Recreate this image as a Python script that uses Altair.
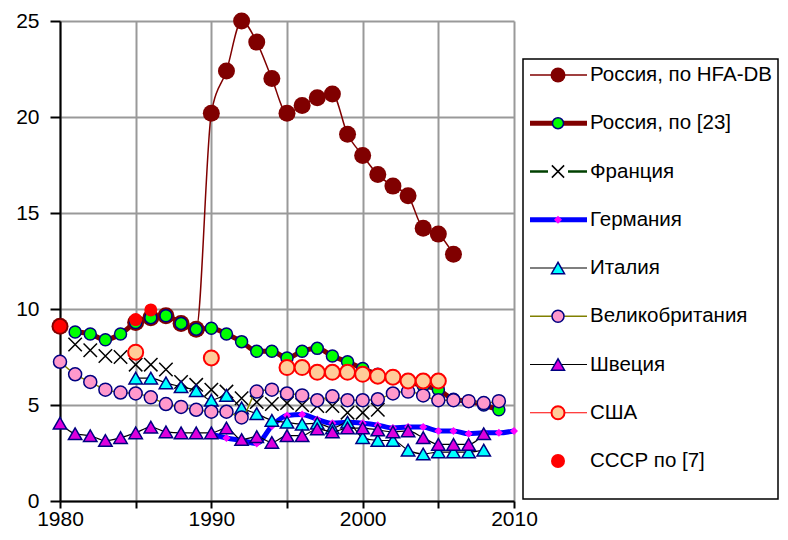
import altair as alt
import pandas as pd

years = list(range(1980, 2011))
N = None

russia_hfa = [9.1, N, N, N, N, 9.3, 9.55, 9.65, 9.25, 8.95,
              20.2, 22.4, 25.0, 23.9, 22.0, 20.2, 20.6, 21.0, 21.2, 19.1,
              18.0, 17.0, 16.4, 15.9, 14.2, 13.9, 12.85, N, N, N, N]
russia_23 = [N, 8.8, 8.7, 8.4, 8.7, 9.3, 9.55, 9.65, 9.25, 8.95,
             9.0, 8.7, 8.3, 7.8, 7.8, 7.45, 7.8, 7.95, 7.55, 7.25,
             6.9, 6.6, 6.4, 6.2, 6.0, 5.8, 5.3, 5.2, 5.0, 4.75, N]
france = [N, 8.15, 7.85, 7.55, 7.5, 7.1, 7.1, 6.85, 6.2, 6.05,
          5.8, 5.7, 5.35, 5.15, 5.05, 5.1, 5.0, 4.95, 4.95, 4.6,
          4.6, 4.75, N, N, N, N, N, N, N, N, N]
germany = [N, N, N, N, N, N, N, N, N, N,
           3.5, 3.28, 3.15, 3.0, 3.9, 4.45, 4.5, 4.25, 4.05, 4.1,
           4.05, 3.95, 3.8, 3.85, 3.85, 3.65, 3.65, 3.5, 3.55, 3.55, 3.65]
italy = [N, N, N, N, N, 6.4, 6.4, 6.15, 5.95, 5.75,
         5.25, 5.5, 4.85, 4.55, 4.2, 4.1, 4.0, 4.05, 3.8, 4.1,
         3.3, 3.15, 3.15, 2.65, 2.45, 2.55, 2.55, 2.55, 2.65, N, N]
uk = [7.25, 6.6, 6.2, 5.8, 5.65, 5.6, 5.4, 5.05, 4.9, 4.75,
      4.65, 4.65, 4.35, 5.7, 5.8, 5.6, 5.5, 5.25, 5.45, 5.25,
      5.25, 5.3, 5.6, 5.7, 5.5, 5.25, 5.25, 5.2, 5.1, 5.2, N]
sweden = [4.05, 3.5, 3.4, 3.15, 3.3, 3.55, 3.85, 3.6, 3.55, 3.55,
          3.55, 3.8, 3.2, 3.35, 3.05, 3.4, 3.4, 3.75, 3.6, 3.8,
          3.8, 3.7, 3.6, 3.65, 3.3, 2.95, 2.95, 2.95, 3.5, N, N]
usa = [N, N, N, N, N, 7.75, N, N, N, N,
       7.45, N, N, N, N, 6.95, 6.95, 6.7, 6.7, 6.7,
       6.6, 6.5, 6.45, 6.25, 6.25, 6.25, N, N, N, N, N]
ussr = [9.1, N, N, N, N, 9.45, 9.95, N, N, N,
        N, N, N, N, N, N, N, N, N, N,
        N, N, N, N, N, N, N, N, N, N, N]

names = ["Россия, по HFA-DB", "Россия, по [23]", "Франция", "Германия", "Италия",
         "Великобритания", "Швеция", "США", "СССР по [7]"]
values = [russia_hfa, russia_23, france, germany, italy, uk, sweden, usa, ussr]

XSHAPE = "M-1,-1L1,1M-1,1L1,-1"
styles = [
    dict(line="#800000", lw=1.5, shape="circle", fill="#800000", stroke="#800000", sw=0, size=289, lsize=225),
    dict(line="#800000", lw=5, shape="circle", fill="#00FF00", stroke="#000080", sw=1.5, size=144, lsize=121),
    dict(line=None, lline="#004000", lw=2.5, shape=XSHAPE, fill=None, stroke="black", sw=1.5, size=180, lsize=150),
    dict(line="#0000FF", lw=5, shape="diamond", fill="#FF00FF", stroke="#FF00FF", sw=0, size=64, lsize=64),
    dict(line="black", lw=1.2, shape="triangle-up", fill="#00FFFF", stroke="#000080", sw=1.5, size=180, lsize=170),
    dict(line="#808000", lw=1.5, shape="circle", fill="#FF99CC", stroke="#000080", sw=1.5, size=169, lsize=144),
    dict(line="black", lw=1.2, shape="triangle-up", fill="#DD00DD", stroke="#000080", sw=1.5, size=180, lsize=170),
    dict(line="#FF0000", lw=1.2, shape="circle", fill="#FFCC99", stroke="#FF0000", sw=2, size=225, lsize=169),
    dict(line=None, lline=None, lw=0, shape="circle", fill="#FF0000", stroke="#FF0000", sw=0, size=169, lsize=196),
]

FONT = "Liberation Sans"
FS = 21
LFS = 20.5

xscale = alt.Scale(domain=[1980, 2010], nice=False, zero=False)
yscale = alt.Scale(domain=[0, 25], nice=False)
xaxis = alt.Axis(values=list(range(1980, 2011, 5)), format="d",
                 labelExpr="datum.value % 10 == 0 ? datum.label : ''",
                 title=None, grid=True, gridColor="#999999", gridWidth=2,
                 domainColor="black", domainWidth=2, tickColor="black", tickWidth=2,
                 tickSize=7, labelFont=FONT, labelFontSize=FS, labelColor="black",
                 labelPadding=0, labelFlush=False, labelOverlap=False)
yaxis = alt.Axis(values=list(range(0, 26, 5)), title=None, grid=True,
                 gridColor="#999999", gridWidth=2, domainColor="black", domainWidth=2,
                 tickColor="black", tickWidth=2, tickSize=10, labelFont=FONT,
                 labelFontSize=FS, labelColor="black", labelPadding=11)

main_layers = []
for name, vals, st in zip(names, values, styles):
    df = pd.DataFrame({"year": years, "value": vals})
    base = alt.Chart(df).encode(
        x=alt.X("year:Q", scale=xscale, axis=xaxis),
        y=alt.Y("value:Q", scale=yscale, axis=yaxis),
    )
    if st["line"]:
        main_layers.append(base.mark_line(color=st["line"], strokeWidth=st["lw"],
                                          interpolate="monotone",
                                          invalid="break-paths-filter-domains"))
    if st["fill"]:
        main_layers.append(base.mark_point(shape=st["shape"], filled=True, fill=st["fill"],
                                           stroke=st["stroke"], strokeWidth=st["sw"],
                                           size=st["size"], opacity=1))
    else:
        main_layers.append(base.mark_point(shape=st["shape"], filled=False, color=st["stroke"],
                                           strokeWidth=st["sw"], size=st["size"], opacity=1))

main = alt.layer(*main_layers)

# legend
lscale = alt.Scale(domain=[0, 8], range=[54, 440])
legend_df = pd.DataFrame({"i": list(range(len(names))), "label": names})
box = alt.Chart(pd.DataFrame({"a": [0]})).mark_rect(
    fill="white", stroke="black", strokeWidth=1.5
).encode(x=alt.value(463), x2=alt.value(718), y=alt.value(38), y2=alt.value(478))
legend_layers = [box]
for i, st in enumerate(styles):
    row = legend_df[legend_df["i"] == i]
    ly = alt.Y("i:Q", scale=lscale, axis=None)
    if st["line"]:
        legend_layers.append(alt.Chart(row).mark_rule(color=st["line"], strokeWidth=st["lw"]).encode(
            x=alt.value(470), x2=alt.value(527), y=ly))
    elif st.get("lline"):
        legend_layers.append(alt.Chart(row).mark_rule(color=st["lline"], strokeWidth=st["lw"]).encode(
            x=alt.value(470), x2=alt.value(488), y=ly))
        legend_layers.append(alt.Chart(row).mark_rule(color=st["lline"], strokeWidth=st["lw"]).encode(
            x=alt.value(508), x2=alt.value(527), y=ly))
    if st["fill"]:
        legend_layers.append(alt.Chart(row).mark_point(shape=st["shape"], filled=True, fill=st["fill"],
                                                       stroke=st["stroke"], strokeWidth=st["sw"],
                                                       size=st["lsize"], opacity=1).encode(
            x=alt.value(498), y=ly))
    else:
        legend_layers.append(alt.Chart(row).mark_point(shape=st["shape"], filled=False, color=st["stroke"],
                                                       strokeWidth=st["sw"], size=st["lsize"], opacity=1).encode(
            x=alt.value(498), y=ly))
legend_layers.append(alt.Chart(legend_df).mark_text(
    align="left", baseline="middle", font=FONT, fontSize=LFS, color="black"
).encode(x=alt.value(530), y=alt.Y("i:Q", scale=lscale, axis=None), text="label:N"))
legend = alt.layer(*legend_layers)

chart = alt.layer(main, legend).resolve_scale(y="independent").properties(
    width=454, height=480,
    autosize=alt.AutoSizeParams(type="none"),
    padding={"left": 52, "top": 13, "right": 266, "bottom": 31},
).configure_view(strokeWidth=0)

chart.save("out.html", embed_options={"renderer": "svg", "actions": False})
